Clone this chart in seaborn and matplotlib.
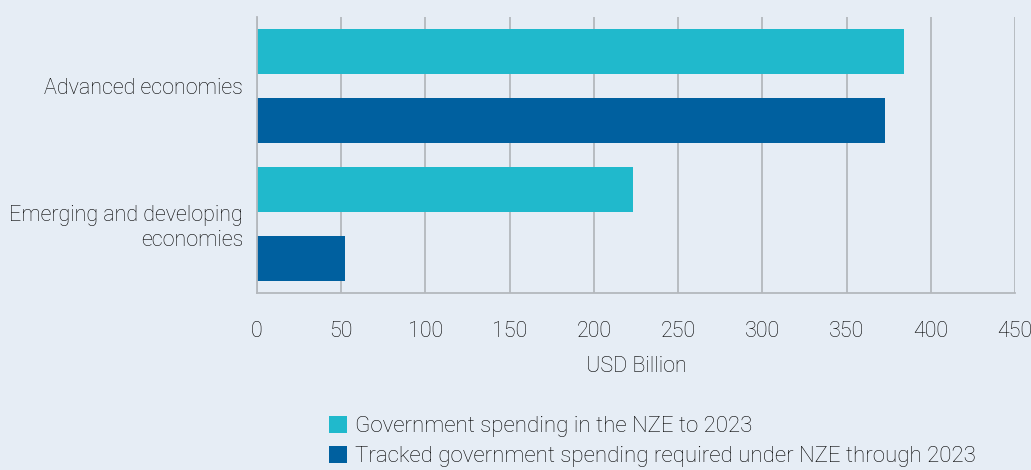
import matplotlib
matplotlib.use('Agg')
import matplotlib.pyplot as plt
import seaborn as sns
import pandas as pd

regions = ["Advanced economies", "Emerging and developing\neconomies"]
series = ["Government spending in the NZE to 2023",
          "Tracked government spending required under NZE through 2023"]
nze_spending = [384, 223]
tracked_spending = [373, 52]
x_ticks = [0, 50, 100, 150, 200, 250, 300, 350, 400, 450]

bg = "#e6edf5"
colors = ["#20b9cc", "#00609f"]
grid_col = "#b4b8bd"
text_col = "#000000"

df = pd.DataFrame({
    "region": regions * 2,
    "series": [series[0]] * 2 + [series[1]] * 2,
    "value": nze_spending + tracked_spending,
})

sns.set_style("white")
plt.rcParams['font.family'] = ['Roboto', 'DejaVu Sans']
plt.rcParams['font.weight'] = 'light'

fig = plt.figure(figsize=(10.31, 4.70), dpi=100, facecolor=bg)
ax = fig.add_axes([257 / 1031, 1 - 293 / 470, 758 / 1031, 276 / 470])
ax.set_facecolor(bg)

sns.barplot(data=df, x="value", y="region", hue="series", orient="h",
            palette=colors, width=1.0, gap=0.34, saturation=1, linewidth=0,
            ax=ax, legend=True)

ax.set_xlim(0, 450)
ax.set_ylim(1.5, -0.5)
ax.set_xticks(x_ticks)
ax.set_xticklabels([str(t) for t in x_ticks], fontsize=15.5, color=text_col)
ax.set_yticks([0, 1])
ax.set_yticklabels(regions, fontsize=15.5, color=text_col, ha="right")
ax.set_yticks([-0.5, 0.5, 1.5], minor=True)
ax.tick_params(axis="y", which="major", length=0, pad=10)
ax.tick_params(axis="y", which="minor", length=9, width=1.3, color=grid_col)
ax.tick_params(axis="x", length=9, width=1.3, color=grid_col, pad=11)
ax.set_xlabel("USD Billion", fontsize=15.5, color=text_col, fontweight="light", labelpad=10)
ax.set_ylabel("")

ax.grid(axis="x", color=grid_col, linewidth=1.3)
ax.set_axisbelow(True)
for s in ["top", "right"]:
    ax.spines[s].set_visible(False)
for s in ["left", "bottom"]:
    ax.spines[s].set_color(grid_col)
    ax.spines[s].set_linewidth(1.3)

handles, labels = ax.get_legend_handles_labels()
ax.legend_.remove()
fig.legend(handles, labels, loc="upper left", bbox_to_anchor=(318 / 1031, 1 - 405 / 470),
           frameon=False, fontsize=16, handlelength=0.8, handleheight=0.8,
           handletextpad=0.35, labelspacing=0.4, borderpad=0, labelcolor=text_col)

fig.savefig("out.png", dpi=100, facecolor=bg)
